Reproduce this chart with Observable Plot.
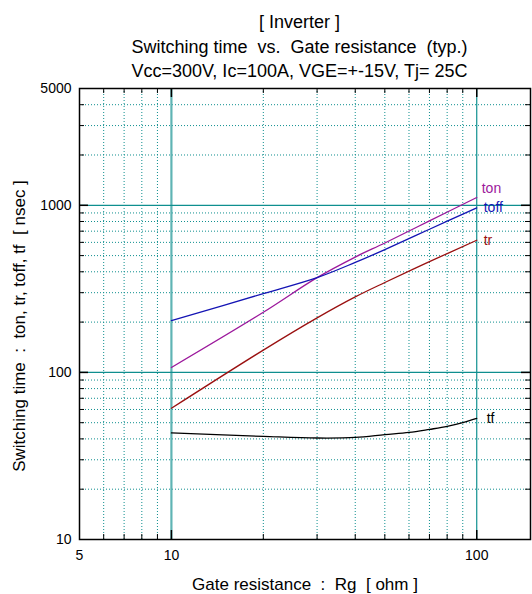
<!DOCTYPE html>
<html><head><meta charset="utf-8">
<script src="https://cdn.jsdelivr.net/npm/d3@7"></script>
<script src="https://cdn.jsdelivr.net/npm/@observablehq/plot@0.6"></script>
<style>body{margin:0;background:#fff;} svg{display:block;}</style>
</head><body><div id="chart"></div>
<script>
// ---- data ----
const titleLines = ["[ Inverter ]", "Switching time  vs.  Gate resistance  (typ.)", "Vcc=300V, Ic=100A, VGE=+-15V, Tj= 25C"];
const xLabel = "Gate resistance  :  Rg  [ ohm ]";
const yLabel = "Switching time  :  ton, tr, toff, tf  [ nsec ]";

const rg   = [10, 20, 30, 40, 50, 70, 100];
const ton  = [107, 229, 369, 490, 595, 807, 1114];
const toff = [204, 296, 369, 455, 543, 719, 964];
const tr   = [61, 136, 212, 283, 345, 460, 618];
const rgTf = [10, 20, 30, 40, 50, 60, 70, 80, 90, 100];
const tf   = [43.4, 41.4, 40.5, 40.8, 42.4, 43.7, 45.6, 47.5, 50, 53];

const seriesNames = ["ton", "toff", "tr", "tf"];
const seriesColors = ["#9c189c", "#1414b4", "#9a1010", "#000000"];

const xTickLabels = [5, 10, 100];
const yTickLabels = [10, 100, 1000, 5000];
const xMajor = [10, 100];
const yMajor = [100, 1000];
const xMinor = [6, 7, 8, 9, 20, 30, 40, 50, 60, 70, 80, 90];
const yMinor = [20, 30, 40, 50, 60, 70, 80, 90, 200, 300, 400, 500, 600, 700, 800, 900, 2000, 3000, 4000];

// ---- layout ----
const W = 532, H = 594, mL = 79, mR = 2, mT = 88, mB = 55;
const fw = W - mL - mR, fh = H - mT - mB;
const teal = "#0f8f8f";
const series = [
  {name: seriesNames[0], color: seriesColors[0], xs: rg, ys: ton, dx: 5, dy: -9},
  {name: seriesNames[1], color: seriesColors[1], xs: rg, ys: toff, dx: 7, dy: 0},
  {name: seriesNames[2], color: seriesColors[2], xs: rg, ys: tr, dx: 7, dy: 0},
  {name: seriesNames[3], color: seriesColors[3], xs: rgTf, ys: tf, dx: 10, dy: 0}
];
const rows = s => s.xs.map((x, i) => ({x, y: s.ys[i]}));

const tickMarks = [];
for (const [vals, len, sw] of [[xMinor, 5, 1], [xMajor, 9, 1.5]]) {
  tickMarks.push(Plot.tickX(vals, {x: d => d, stroke: "black", strokeWidth: sw, insetTop: fh - len}));
  tickMarks.push(Plot.tickX(vals, {x: d => d, stroke: "black", strokeWidth: sw, insetBottom: fh - len}));
}
for (const [vals, len, sw] of [[yMinor, 5, 1], [yMajor, 9, 1.5]]) {
  tickMarks.push(Plot.tickY(vals, {y: d => d, stroke: "black", strokeWidth: sw, insetRight: fw - len}));
  tickMarks.push(Plot.tickY(vals, {y: d => d, stroke: "black", strokeWidth: sw, insetLeft: fw - len}));
}

const chart = Plot.plot({
  width: W,
  height: H,
  marginLeft: mL,
  marginRight: mR,
  marginTop: mT,
  marginBottom: mB,
  x: {type: "log", domain: [5, 150], axis: null},
  y: {type: "log", domain: [10, 5000], axis: null},
  style: {fontFamily: "'Liberation Sans', Arial, sans-serif", background: "white", color: "black"},
  marks: [
    Plot.gridX(xMinor, {stroke: teal, strokeOpacity: 1, strokeDasharray: "1,2"}),
    Plot.gridY(yMinor, {stroke: teal, strokeOpacity: 1, strokeDasharray: "1,2"}),
    Plot.ruleX([xMajor[0]], {stroke: "#5fb4b4", strokeWidth: 2.2}),
    Plot.ruleX([xMajor[1]], {stroke: teal, strokeWidth: 1.2}),
    Plot.ruleY(yMajor, {stroke: teal, strokeWidth: 1.2}),
    ...tickMarks,
    Plot.text(xTickLabels, {x: d => d, text: d => String(d), frameAnchor: "bottom", lineAnchor: "middle", textAnchor: "middle", dy: 16, fontSize: 14}),
    Plot.text(yTickLabels, {y: d => d, text: d => String(d), frameAnchor: "left", lineAnchor: "middle", textAnchor: "end", dx: -8, fontSize: 14}),
    ...series.map(s => Plot.line(rows(s), {x: "x", y: "y", stroke: s.color, strokeWidth: 1.3, curve: "catmull-rom"})),
    ...series.map(s => Plot.text([rows(s).at(-1)], {x: "x", y: "y", text: () => s.name, fill: s.color, dx: s.dx, dy: s.dy, textAnchor: "start", fontSize: 14})),
    Plot.frame({stroke: "black", strokeWidth: 1.5}),
    ...titleLines.map((t, i) => Plot.text([t], {frameAnchor: "top", lineAnchor: "middle", textAnchor: "middle", dy: -66 + i * 24.5, dx: -5.5, fontSize: 18})),
    Plot.text([xLabel], {frameAnchor: "bottom", lineAnchor: "middle", textAnchor: "middle", dy: 45, fontSize: 17}),
    Plot.text([yLabel], {frameAnchor: "left", lineAnchor: "middle", textAnchor: "middle", dx: -60, dy: 12, rotate: -90, fontSize: 17})
  ]
});
document.getElementById("chart").appendChild(chart);
</script>
</body></html>
